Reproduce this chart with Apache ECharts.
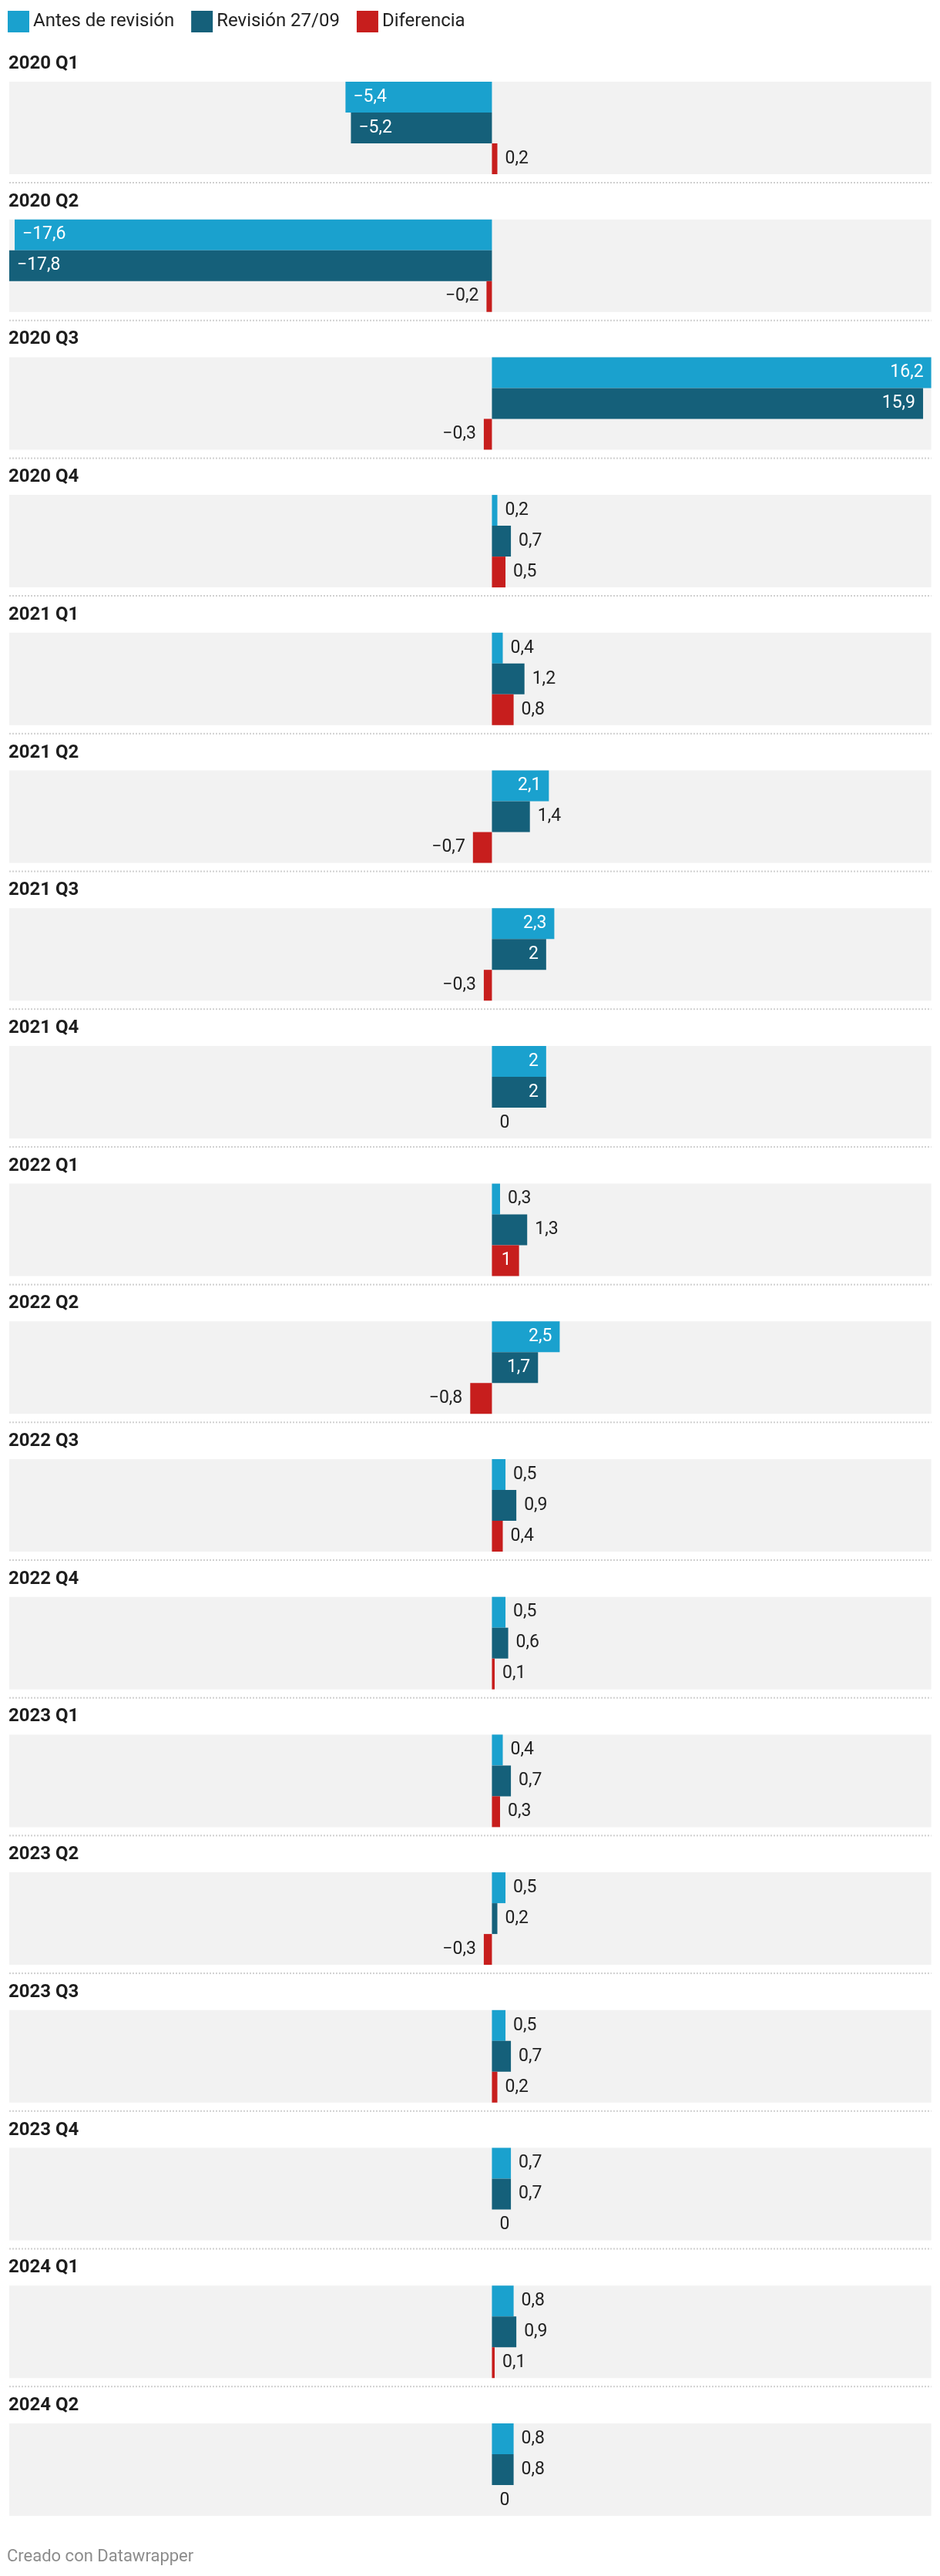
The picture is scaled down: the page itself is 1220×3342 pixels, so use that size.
<!DOCTYPE html>
<html><head><meta charset="utf-8">
<script src="https://cdn.jsdelivr.net/npm/echarts@6/dist/echarts.min.js"></script>
<style>html,body{margin:0;padding:0;background:#fff}#c{width:1220px;height:3342px}</style>
</head><body><div id="c"></div><script>
const quarters = ['2020 Q1','2020 Q2','2020 Q3','2020 Q4','2021 Q1','2021 Q2','2021 Q3','2021 Q4','2022 Q1','2022 Q2','2022 Q3','2022 Q4','2023 Q1','2023 Q2','2023 Q3','2023 Q4','2024 Q1','2024 Q2'];
const antes = [-5.4,-17.6,16.2,0.2,0.4,2.1,2.3,2,0.3,2.5,0.5,0.5,0.4,0.5,0.5,0.7,0.8,0.8];
const revision = [-5.2,-17.8,15.9,0.7,1.2,1.4,2,2,1.3,1.7,0.9,0.6,0.7,0.2,0.7,0.7,0.9,0.8];
const diferencia = [0.2,-0.2,-0.3,0.5,0.8,-0.7,-0.3,0,1,-0.8,0.4,0.1,0.3,-0.3,0.2,0,0.1,0];
const seriesNames = ['Antes de revisión','Revisión 27/09','Diferencia'];
const footer = 'Creado con Datawrapper';

const colors = ['#1aa1ce','#15607a','#c71e1d'];
const PANEL0 = 106, STEP = 178.7, BAND = 120, LEFT = 12, RIGHT = 11.4;
const LABEL_FONT = 23;
const all = antes.concat(revision, diferencia);
const xmin = Math.min(...all), xmax = Math.max(...all);
const pxPerUnit = (1220 - LEFT - RIGHT) / (xmax - xmin);
const ctx = document.createElement('canvas').getContext('2d');
ctx.font = LABEL_FONT + 'px Roboto';
function fmt(v){ return String(v).replace('.', ',').replace('-', '\u2212'); }
function item(v){
  const text = fmt(v);
  const w = ctx.measureText(text).width;
  const inside = v !== 0 && Math.abs(v) * pxPerUnit >= w + 20;
  let position;
  if (inside) position = v > 0 ? 'insideRight' : 'insideLeft';
  else position = v < 0 ? 'left' : 'right';
  return { value: v, label: { position: position, color: inside ? '#ffffff' : '#222222' } };
}

const dataSets = [antes, revision, diferencia];
const grids = [], xAxes = [], yAxes = [], series = [], titles = [], graphics = [];
quarters.forEach((q, i) => {
  const top = PANEL0 + i * STEP;
  grids.push({ left: LEFT, right: RIGHT, top: top, height: BAND, show: true, backgroundColor: '#f2f2f2', borderWidth: 0, containLabel: false });
  xAxes.push({ type: 'value', gridIndex: i, min: xmin, max: xmax, show: false });
  yAxes.push({ type: 'category', gridIndex: i, data: ['a', 'r', 'd'], inverse: true, show: false });
  titles.push({ text: q, left: LEFT - 1, top: top - 35, padding: 0, textStyle: { fontFamily: 'Roboto', fontSize: 24, fontWeight: 'bold', color: '#1d1d1d', lineHeight: 24 } });
  seriesNames.forEach((name, s) => {
    const d = [0, 1, 2].map(k => k === s ? item(dataSets[s][i]) : '-');
    series.push({
      name: name, type: 'bar', xAxisIndex: i, yAxisIndex: i, data: d,
      barWidth: '100%', barGap: '-100%', itemStyle: { color: colors[s] },
      label: { show: true, fontFamily: 'Roboto', fontSize: LABEL_FONT, distance: 10, formatter: p => fmt(p.value) },
      emphasis: { disabled: true }, silent: true
    });
  });
  if (i < quarters.length - 1) {
    graphics.push({ type: 'line', shape: { x1: LEFT, y1: 237 + i * STEP, x2: 1220 - RIGHT, y2: 237 + i * STEP }, style: { stroke: '#d0d0d0', lineWidth: 2, lineDash: [2, 2] }, silent: true });
  }
});
graphics.push({ type: 'text', left: 9, top: 3306, style: { text: footer, font: '22px Roboto', fill: '#8c8c8c' } });

const chart = echarts.init(document.getElementById('c'), null, { renderer: 'canvas' });
chart.setOption({
  animation: false,
  backgroundColor: '#ffffff',
  color: colors,
  legend: { data: seriesNames, left: 10, top: 14, icon: 'rect', itemWidth: 28, itemHeight: 28, itemGap: 22, selectedMode: false, padding: 0,
    textStyle: { fontFamily: 'Roboto', fontSize: 24, color: '#222' } },
  title: titles,
  grid: grids, xAxis: xAxes, yAxis: yAxes, series: series,
  graphic: graphics
});
</script></body></html>
